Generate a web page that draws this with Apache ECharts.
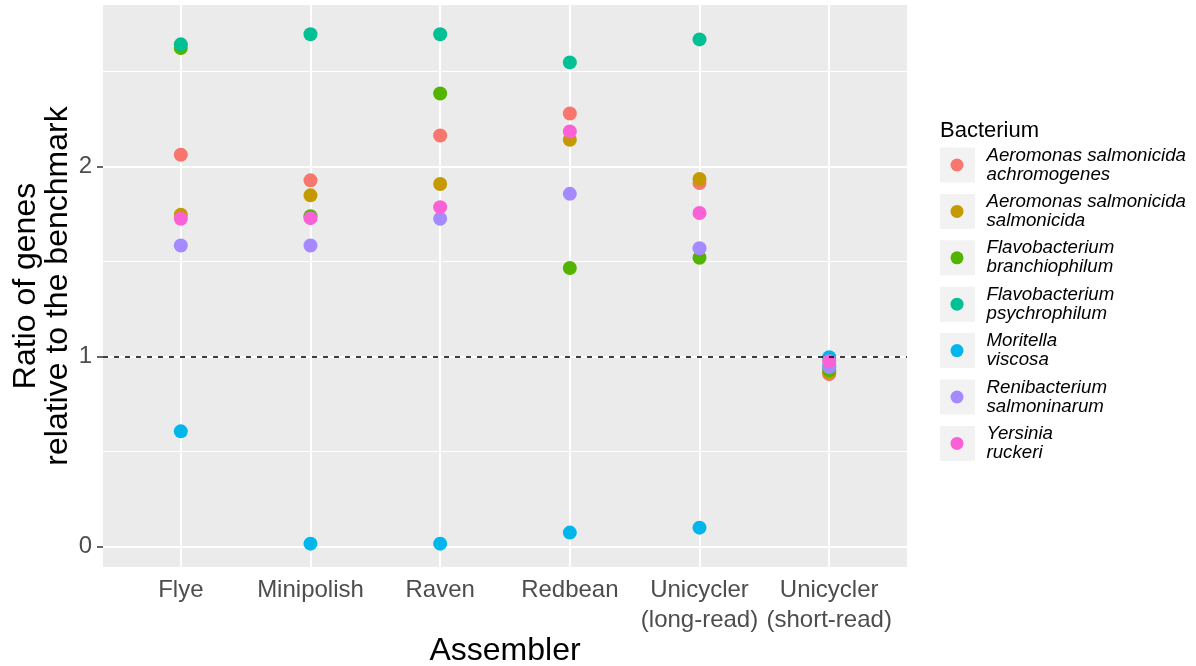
<!DOCTYPE html>
<html>
<head>
<meta charset="utf-8">
<script src="https://cdn.jsdelivr.net/npm/echarts@6/dist/echarts.min.js"></script>
<style>
  html, body { margin: 0; padding: 0; background: #fff; }
  #chart { width: 1196px; height: 666px; }
</style>
</head>
<body>
<div id="chart"></div>
<script>
// assemblers on the x axis (positions 1..6)
var assemblers = ['Flye', 'Minipolish', 'Raven', 'Redbean', 'Unicycler\n(long-read)', 'Unicycler\n(short-read)'];
var bacteria = [
    'Aeromonas salmonicida\nachromogenes',
    'Aeromonas salmonicida\nsalmonicida',
    'Flavobacterium\nbranchiophilum',
    'Flavobacterium\npsychrophilum',
    'Moritella\nviscosa',
    'Renibacterium\nsalmoninarum',
    'Yersinia\nruckeri'
];
var colors = ['#F8766D', '#C49A00', '#53B400', '#00C094', '#00B6EB', '#A58AFF', '#FB61D7'];

// ratio of genes relative to the benchmark, one value per assembler
var asAchromogenes = [2.063, 1.928, 2.164, 2.280, 1.914, 0.908];
var asSalmonicida = [1.747, 1.849, 1.909, 2.142, 1.935, 0.918];
var fBranchiophilum = [2.625, 1.739, 2.385, 1.467, 1.521, 0.928];
var fPsychrophilum = [2.644, 2.697, 2.697, 2.549, 2.670, 0.950];
var mViscosa = [0.607, 0.016, 0.016, 0.074, 0.100, 0.997];
var rSalmoninarum = [1.585, 1.585, 1.726, 1.857, 1.571, 0.945];
var yRuckeri = [1.726, 1.729, 1.787, 2.185, 1.756, 0.976];
var allValues = [asAchromogenes, asSalmonicida, fBranchiophilum, fPsychrophilum, mViscosa, rSalmoninarum, yRuckeri];

// axis ticks / gridlines
var xTicks = [1, 2, 3, 4, 5, 6];
var yTicks = [0, 1, 2];
var yMinor = [0.5, 1.5, 2.5];
var refLine = 1;

var FONT = 'Liberation Sans, Arial, sans-serif';
var chart = echarts.init(document.getElementById('chart'));

var series = [];
for (var i = 0; i < bacteria.length; i++) {
    var pts = [];
    for (var j = 0; j < allValues[i].length; j++) {
        pts.push([xTicks[j], allValues[i][j]]);
    }
    series.push({
        name: bacteria[i],
        type: 'scatter',
        symbol: 'circle',
        symbolSize: 14,
        z: 3,
        itemStyle: { color: colors[i], opacity: 1 },
        data: pts
    });
}

// panel gridlines
var gridLines = [];
yMinor.forEach(function(v) { gridLines.push({ yAxis: v, lineStyle: { width: 1 } }); });
yTicks.forEach(function(v) { gridLines.push({ yAxis: v, lineStyle: { width: 2 } }); });
xTicks.forEach(function(v) { gridLines.push({ xAxis: v, lineStyle: { width: 2 } }); });
series.push({
    type: 'scatter', data: [], z: 1, silent: true,
    markLine: {
        z: 1, silent: true, symbol: ['none', 'none'], animation: false,
        label: { show: false },
        lineStyle: { color: '#FFFFFF', type: 'solid' },
        data: gridLines
    }
});
series.push({
    type: 'scatter', data: [], z: 4, silent: true,
    markLine: {
        z: 5, silent: true, symbol: ['none', 'none'], animation: false,
        label: { show: false },
        lineStyle: { color: '#000000', type: [5, 6], width: 1.6 },
        data: [{ yAxis: refLine }]
    }
});

// legend key boxes
var legTop = 146, legStep = 46.4;
var keyBoxes = [];
for (var k = 0; k < bacteria.length; k++) {
    keyBoxes.push({
        type: 'rect', left: 940, top: legTop + 19 - 17.5 + k * legStep, z: -1,
        shape: { width: 35, height: 35 },
        style: { fill: '#F2F2F2' }
    });
}

var option = {
    animation: false,
    textStyle: { fontFamily: FONT },
    title: {
        text: 'Bacterium', left: 940, top: 120, padding: 0,
        textStyle: { fontFamily: FONT, fontSize: 22, fontWeight: 'normal', color: '#000' }
    },
    legend: {
        orient: 'vertical', left: 950.5, top: legTop, padding: 0,
        itemGap: 8.4, itemWidth: 13, itemHeight: 13, icon: 'circle',
        data: bacteria,
        textStyle: { fontFamily: FONT, fontSize: 18.7, fontStyle: 'italic', color: '#000', lineHeight: 19, padding: [0, 0, 0, 18] }
    },
    graphic: keyBoxes,
    grid: {
        left: 103, right: 289, top: 5, bottom: 99,
        outerBoundsMode: 'none', containLabel: false,
        show: true, backgroundColor: '#EBEBEB', borderWidth: 0
    },
    xAxis: {
        type: 'value', min: 0.4, max: 6.6,
        name: 'Assembler', nameLocation: 'middle', nameGap: 68, nameMoveOverlap: false,
        nameTextStyle: { fontFamily: FONT, fontSize: 32, color: '#000' },
        axisLine: { show: false },
        axisTick: { show: true, length: 6, customValues: xTicks, lineStyle: { color: '#333', width: 1.5 } },
        splitLine: { show: false },
        axisLabel: {
            customValues: xTicks, margin: 8,
            fontFamily: FONT, fontSize: 24, color: '#4D4D4D', lineHeight: 30,
            formatter: function(v) { return assemblers[Math.round(v) - 1]; }
        }
    },
    yAxis: {
        type: 'value', min: -0.107, max: 2.851,
        name: 'Ratio of genes\nrelative to the benchmark', nameLocation: 'middle', nameGap: 29,
        nameMoveOverlap: false, nameRotate: 90,
        nameTextStyle: { fontFamily: FONT, fontSize: 32, color: '#000', lineHeight: 32 },
        axisLine: { show: false },
        axisTick: { show: true, length: 6, customValues: yTicks, lineStyle: { color: '#333', width: 1.5 } },
        splitLine: { show: false },
        axisLabel: {
            customValues: yTicks, margin: 11,
            fontFamily: FONT, fontSize: 24, color: '#4D4D4D'
        }
    },
    series: series
};

chart.setOption(option);
</script>
</body>
</html>
